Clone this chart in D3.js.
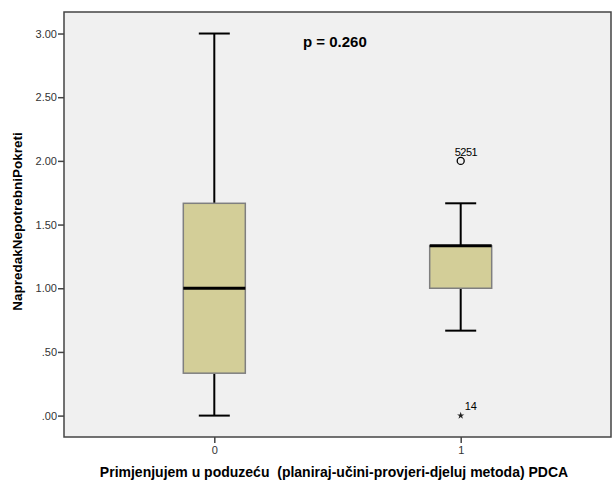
<!DOCTYPE html>
<html>
<head>
<meta charset="utf-8">
<script src="https://cdn.jsdelivr.net/npm/d3@7"></script>
<style>
  body { margin: 0; background: #fff; }
  svg text { font-family: Arial, "Liberation Sans", sans-serif; }
</style>
</head>
<body>
<div id="chart"></div>
<script>
// groups on x axis
let categories = ["0", "1"];
// box stats per group: whisker low, q1, median, q3, whisker high
let whiskerLow = [0, 0.667];
let q1 = [0.333, 1.0];
let medians = [1.0, 1.333];
let q3 = [1.667, 1.333];
let whiskerHigh = [3.0, 1.667];
// outliers (circle) and extremes (star)
let outliers = [{ cat: "1", value: 2.0, label: "5251" }];
let extremes = [{ cat: "1", value: 0.0, label: "14" }];
let yTicks = [0, 0.5, 1, 1.5, 2, 2.5, 3];

let margin = { top: 12, right: 1, bottom: 48, left: 64 },
    width = 612 - margin.left - margin.right,
    height = 485 - margin.top - margin.bottom;

let svg = d3.select("#chart")
    .append("svg")
    .attr("width", 612)
    .attr("height", 485)
    .append("g")
    .attr("transform", "translate(" + margin.left + "," + margin.top + ")");

let x = d3.scalePoint()
    .domain(categories)
    .range([0, width])
    .padding(0.61);

let y = d3.scaleLinear()
    .domain([-0.168, 3.169])
    .range([height, 0]);

svg.append("rect")
    .attr("width", width)
    .attr("height", height)
    .style("fill", "#f0f0f0");

let boxW = 62, capW = 31;
let stats = categories.map(function (c, i) {
    return { cat: c, lo: whiskerLow[i], q1: q1[i], med: medians[i], q3: q3[i], hi: whiskerHigh[i] };
});

let g = svg.selectAll(".box")
    .data(stats)
    .enter()
    .append("g")
    .attr("transform", function (d) { return "translate(" + x(d.cat) + ",0)"; });

// whiskers
g.append("line")
    .attr("y1", function (d) { return y(d.hi); })
    .attr("y2", function (d) { return y(d.q3); })
    .style("stroke", "#000").style("stroke-width", 2);
g.append("line")
    .attr("y1", function (d) { return y(d.q1); })
    .attr("y2", function (d) { return y(d.lo); })
    .style("stroke", "#000").style("stroke-width", 2);
g.selectAll(".cap")
    .data(function (d) { return [d.lo, d.hi]; })
    .enter()
    .append("line")
    .attr("x1", -capW / 2).attr("x2", capW / 2)
    .attr("y1", function (v) { return y(v); })
    .attr("y2", function (v) { return y(v); })
    .style("stroke", "#000").style("stroke-width", 2);

g.append("rect")
    .attr("x", -boxW / 2)
    .attr("width", boxW)
    .attr("y", function (d) { return y(d.q3); })
    .attr("height", function (d) { return y(d.q1) - y(d.q3); })
    .style("fill", "#d3ce98")
    .style("stroke", "#7f7f7f")
    .style("stroke-width", 1.5);

g.append("line")
    .attr("x1", -boxW / 2).attr("x2", boxW / 2)
    .attr("y1", function (d) { return y(d.med); })
    .attr("y2", function (d) { return y(d.med); })
    .style("stroke", "#000").style("stroke-width", 3);

// outlier circles
svg.selectAll(".outlier")
    .data(outliers)
    .enter()
    .append("circle")
    .attr("cx", function (d) { return x(d.cat); })
    .attr("cy", function (d) { return y(d.value); })
    .attr("r", 3.5)
    .style("fill", "none")
    .style("stroke", "#000")
    .style("stroke-width", 1.3);
svg.selectAll(".outlierLabel")
    .data(outliers)
    .enter()
    .append("text")
    .attr("x", function (d) { return x(d.cat) - 6; })
    .attr("y", function (d) { return y(d.value) - 5; })
    .text(function (d) { return d.label; })
    .attr("font-size", "11px")
    .attr("letter-spacing", "-0.5px")
    .attr("fill", "#000");

// extreme stars
svg.selectAll(".extreme")
    .data(extremes)
    .enter()
    .append("path")
    .attr("transform", function (d) { return "translate(" + x(d.cat) + "," + y(d.value) + ")"; })
    .attr("d", d3.symbol().type(d3.symbolStar).size(16))
    .style("fill", "#222");
svg.selectAll(".extremeLabel")
    .data(extremes)
    .enter()
    .append("text")
    .attr("x", function (d) { return x(d.cat) + 4; })
    .attr("y", function (d) { return y(d.value) - 6; })
    .text(function (d) { return d.label; })
    .attr("font-size", "11px")
    .attr("fill", "#000");

// axes
let yAxis = svg.append("g")
    .call(d3.axisLeft(y).tickValues(yTicks).tickSize(6)
        .tickFormat(function (d) { return d3.format(".2f")(d).replace(/^0/, ""); }));
let xAxis = svg.append("g")
    .attr("transform", "translate(0," + height + ")")
    .call(d3.axisBottom(x).tickSize(6));
[yAxis, xAxis].forEach(function (a) {
    a.select(".domain").remove();
    a.selectAll("line").style("stroke", "#444").style("stroke-width", 1.5);
    a.selectAll("text").attr("font-size", "11px").attr("fill", "#333")
        .style("font-family", "Arial, 'Liberation Sans', sans-serif");
});
yAxis.selectAll("text").attr("x", -7);
xAxis.selectAll("text").attr("y", 9);

// frame
svg.append("path")
    .attr("d", "M0,0V" + height + "H" + width + "V0Z")
    .style("fill", "none")
    .style("stroke", "#444")
    .style("stroke-width", 1.5);

svg.append("text")
    .attr("x", 239)
    .attr("y", 35)
    .text("p = 0.260")
    .attr("font-size", "15px")
    .attr("font-weight", "bold")
    .attr("fill", "#000");

svg.append("text")
    .attr("transform", "translate(" + (-42) + "," + (height / 2 - 3) + ") rotate(-90)")
    .attr("text-anchor", "middle")
    .text("NapredakNepotrebniPokreti")
    .attr("font-size", "13.5px")
    .attr("font-weight", "bold");

svg.append("text")
    .attr("x", 270)
    .attr("y", height + 40)
    .attr("text-anchor", "middle")
    .text("Primjenjujem u poduzeću  (planiraj-učini-provjeri-djeluj metoda) PDCA")
    .attr("font-size", "14px")
    .attr("font-weight", "bold")
    .style("white-space", "pre");
</script>
</body>
</html>
